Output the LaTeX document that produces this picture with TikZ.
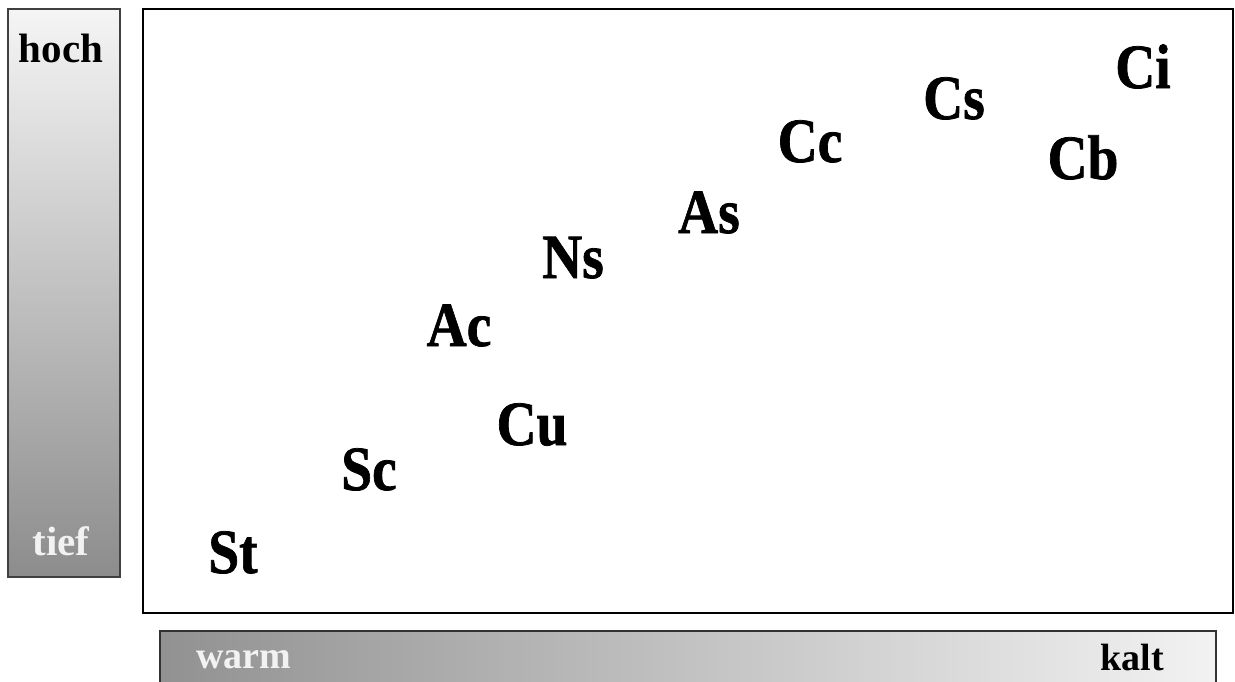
\documentclass[tikz,border=0pt]{standalone}
\usepackage{fontspec}
\setmainfont{Liberation Serif}
\newfontfamily\cloudfont[FakeBold=1.2]{Liberation Serif Bold}
\begin{document}
\begin{tikzpicture}[x=1pt,y=-1pt,
  cloud/.style={anchor=base,inner sep=0pt,font=\fontsize{63}{63}\cloudfont},
  barlabel/.style={anchor=base,inner sep=0pt,font=\fontsize{41}{41}\selectfont\bfseries},
  axlabel/.style={anchor=base,inner sep=0pt,font=\fontsize{38}{38}\selectfont\bfseries}]
\useasboundingbox (0,0) rectangle (1235,681);
% left height bar
\shade[top color=black!4, bottom color=black!45] (8,9) rectangle (120,577);
\draw[line width=2pt, draw=black!75] (8,9) rectangle (120,577);
\node[barlabel] (hoch) at (61,62) {hoch};
\node[barlabel, text=black!5] (tief) at (61,555) {tief};
% main box
\draw[line width=2.5pt] (143,9) rectangle (1233,613);
% bottom temperature bar
\shade[left color=black!43, right color=black!5] (160,631) rectangle (1216,681);
\draw[line width=2pt, draw=black!80] (160,685) -- (160,631) -- (1216,631) -- (1216,685);
\node[axlabel, text=black!5] (warm) at (243.5,668) {warm};
\node[axlabel] (kalt) at (1132,670) {kalt};
% cloud genera
\node[cloud] (Ci) at (1143,88) {\scalebox{0.88}[1]{Ci}};
\node[cloud] (Cs) at (954,119) {\scalebox{0.88}[1]{Cs}};
\node[cloud] (Cc) at (810,162) {\scalebox{0.88}[1]{Cc}};
\node[cloud] (Cb) at (1083,179) {\scalebox{0.88}[1]{Cb}};
\node[cloud] (As) at (709,233) {\scalebox{0.88}[1]{As}};
\node[cloud] (Ns) at (573,278) {\scalebox{0.88}[1]{Ns}};
\node[cloud] (Ac) at (459,346) {\scalebox{0.88}[1]{Ac}};
\node[cloud] (Cu) at (532,445) {\scalebox{0.88}[1]{Cu}};
\node[cloud] (Sc) at (369,490) {\scalebox{0.88}[1]{Sc}};
\node[cloud] (St) at (233,573) {\scalebox{0.88}[1]{St}};
\end{tikzpicture}
\end{document}
